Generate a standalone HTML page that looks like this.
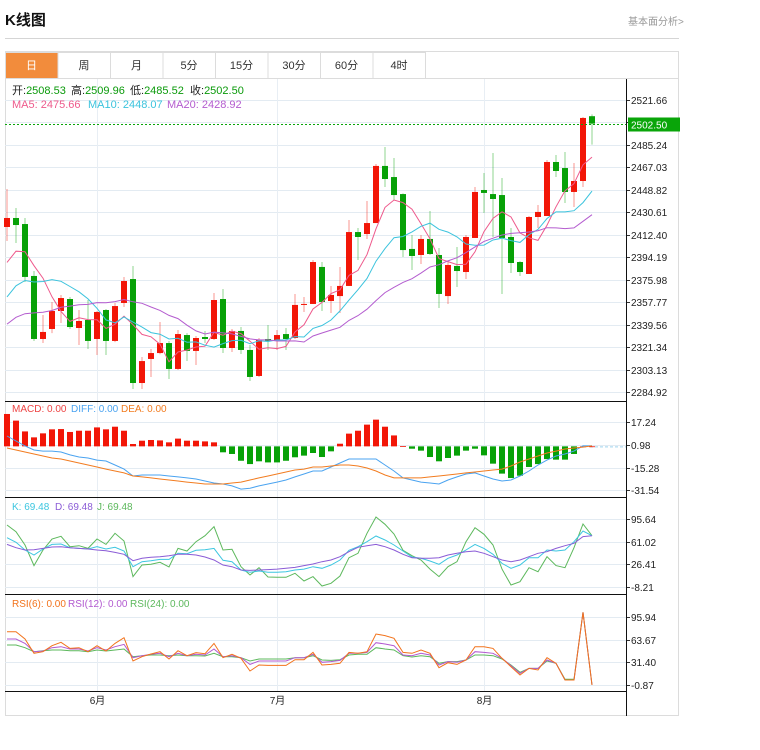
<!DOCTYPE html>
<html><head><meta charset="utf-8"><style>
body{margin:0;background:#fff;width:760px;height:745px;overflow:hidden;font-family:"Liberation Sans","Noto Sans CJK SC",sans-serif}
svg text{font-family:"Liberation Sans","Noto Sans CJK SC",sans-serif}
</style></head><body>
<svg id="c" width="760" height="745" xmlns="http://www.w3.org/2000/svg">
<text x="5" y="25" font-size="15" font-weight="bold" fill="#111">K线图</text>
<text x="628" y="25" font-size="10" fill="#999">基本面分析&gt;</text>
<line x1="5" y1="38.5" x2="679" y2="38.5" stroke="#d5d5d5"/>
<rect x="5.5" y="51.5" width="673" height="664" fill="none" stroke="#dcdcdc"/>
<line x1="5" y1="78.5" x2="679" y2="78.5" stroke="#dcdcdc"/>
<g id="tabs"></g>
<g id="grid"></g><g id="main"></g><g id="ind"></g><g id="axes"></g>
<text y="94" font-size="11"><tspan x="12" fill="#222">开:</tspan><tspan fill="#0a9a0a">2508.53</tspan><tspan x="71" fill="#222">高:</tspan><tspan fill="#0a9a0a">2509.96</tspan><tspan x="130" fill="#222">低:</tspan><tspan fill="#0a9a0a">2485.52</tspan><tspan x="190" fill="#222">收:</tspan><tspan fill="#0a9a0a">2502.50</tspan></text>
<text y="108" font-size="11"><tspan x="12" fill="#ee5a8c">MA5: 2475.66</tspan><tspan x="88" fill="#3bc3dd">MA10: 2448.07</tspan><tspan x="167" fill="#b45ccf">MA20: 2428.92</tspan></text>
<text y="412" font-size="10"><tspan x="12" fill="#ee4444">MACD: 0.00</tspan><tspan x="71" fill="#4aa3f0">DIFF: 0.00</tspan><tspan x="121" fill="#f27c20">DEA: 0.00</tspan></text>
<text y="510" font-size="10"><tspan x="12" fill="#3cc6e0">K: 69.48</tspan><tspan x="55" fill="#8a5bd6">D: 69.48</tspan><tspan x="97" fill="#5cb85c">J: 69.48</tspan></text>
<text y="607" font-size="10"><tspan x="12" fill="#f2731c">RSI(6): 0.00</tspan><tspan x="68" fill="#b259d0">RSI(12): 0.00</tspan><tspan x="130" fill="#5cb85c">RSI(24): 0.00</tspan></text>
</svg>
<script>
const tabs=["日","周","月","5分","15分","30分","60分","4时"];
const opens=[2418.7,2426.0,2421.1,2379.0,2327.9,2336.0,2350.6,2360.3,2336.8,2343.3,2327.9,2351.4,2326.3,2357.1,2376.5,2292.2,2311.7,2316.5,2324.6,2303.6,2331.1,2318.2,2329.5,2327.9,2360.3,2320.6,2334.4,2319.0,2297.9,2327.9,2326.3,2331.9,2328.7,2355.8,2356.3,2386.3,2358.7,2362.7,2370.9,2414.6,2413.0,2421.9,2468.2,2459.2,2445.4,2400.9,2396.0,2409.0,2396.0,2362.7,2387.1,2382.2,2409.8,2448.7,2445.4,2444.6,2410.6,2390.3,2380.6,2426.8,2427.6,2471.4,2466.5,2447.1,2456.0,2508.53];
const closes=[2426.0,2420.3,2378.2,2327.9,2333.6,2350.6,2361.1,2337.6,2342.5,2326.3,2349.8,2326.3,2354.6,2374.9,2292.2,2310.0,2316.5,2324.6,2303.6,2331.9,2318.2,2328.7,2327.9,2359.5,2320.6,2334.4,2319.0,2297.1,2327.1,2326.3,2331.1,2327.9,2355.5,2356.3,2390.3,2357.9,2363.6,2370.9,2414.6,2410.6,2421.9,2468.2,2457.6,2444.6,2400.0,2395.2,2409.0,2396.8,2364.4,2387.9,2383.0,2410.6,2447.1,2446.3,2441.4,2409.8,2389.5,2382.2,2426.8,2430.9,2471.4,2464.1,2447.1,2456.0,2507.1,2502.50];
const highs=[2449.5,2434.1,2426.0,2383.0,2347.3,2357.9,2363.6,2361.9,2351.4,2359.5,2350.5,2352.2,2357.1,2378.2,2387.1,2313.3,2319.8,2341.7,2326.3,2335.2,2332.7,2330.3,2334.4,2365.2,2368.4,2336.0,2337.6,2323.0,2328.7,2339.2,2335.2,2336.8,2364.4,2361.9,2391.9,2390.3,2370.9,2386.3,2424.4,2417.9,2439.8,2469.8,2483.6,2474.6,2446.0,2412.2,2412.2,2431.7,2401.7,2390.3,2402.5,2412.2,2451.1,2462.5,2478.7,2458.4,2417.9,2391.0,2427.6,2436.5,2473.0,2477.1,2479.5,2470.6,2507.9,2509.96];
const lows=[2407.3,2405.7,2374.1,2326.3,2324.6,2332.7,2340.9,2336.0,2323.0,2319.8,2314.9,2314.9,2325.4,2353.8,2287.3,2287.3,2297.1,2315.5,2295.5,2302.8,2310.0,2306.8,2324.6,2327.1,2316.5,2317.3,2315.7,2293.8,2297.1,2319.0,2319.0,2319.0,2327.9,2349.8,2356.3,2350.6,2349.0,2349.0,2370.9,2391.9,2409.0,2421.9,2451.1,2440.6,2394.4,2383.8,2388.7,2396.0,2353.0,2356.3,2370.0,2376.5,2409.8,2430.0,2410.6,2364.4,2381.4,2379.0,2380.6,2417.9,2427.6,2459.2,2438.2,2434.9,2451.1,2485.52];
const prevCloses=[2310,2320,2315,2325,2320,2310,2318,2322,2320,2320,2330,2335,2340,2330,2335,2375,2380,2385,2384];
const priceTicks=["2521.66","2503.45","2485.24","2467.03","2448.82","2430.61","2412.40","2394.19","2375.98","2357.77","2339.56","2321.34","2303.13","2284.92"];
const lastPrice=2502.50;
const macdBars=[23.4,18.6,10.8,6.5,9.4,12.3,12.5,10.4,11.3,11.3,13.7,12.3,14.2,11.3,1.7,4.1,4.6,4.3,2.9,5.6,4.1,4.1,3.6,2.9,-4.3,-5.5,-10.4,-12.8,-10.8,-11.6,-11.6,-10.4,-7.9,-6.7,-4.8,-7.7,-3.6,1.9,9.2,11.3,15.7,19.3,14.2,7.9,0.2,-1.7,-3.1,-7.7,-10.8,-8.4,-6.7,-3.1,-1.7,-6.5,-12.5,-19.7,-22.9,-21.2,-14.9,-12.8,-9.2,-9.6,-9.6,-5.5,0,0];
const diffVals=[7.5,3.9,0.3,-2.6,-3.4,-3.4,-4.1,-6.2,-7.7,-8.4,-9.9,-10.6,-13.5,-16.4,-21.4,-20.7,-20.7,-20.7,-21.4,-22.1,-22.8,-23.6,-25.0,-26.5,-27.2,-28.6,-30.9,-30.2,-28.6,-27.2,-25.8,-24.3,-22.1,-20.0,-17.8,-17.8,-14.9,-12.0,-9.1,-9.1,-9.1,-9.1,-13.5,-17.8,-22.8,-24.3,-25.8,-26.5,-27.2,-24.3,-22.1,-20.0,-19.2,-21.4,-23.6,-25.0,-24.3,-21.4,-17.8,-13.5,-9.9,-7.0,-5.5,-3.4,0.3,0.3];
const deaVals=[-1.2,-2.6,-4.1,-5.5,-7.0,-8.4,-9.1,-10.6,-12.0,-13.5,-14.9,-16.4,-17.8,-19.2,-21.4,-22.1,-22.8,-23.6,-24.3,-25.0,-25.8,-26.5,-27.2,-27.2,-27.2,-26.5,-25.8,-24.3,-22.8,-21.4,-20.0,-18.5,-17.1,-16.4,-14.9,-14.9,-14.2,-13.5,-13.5,-14.2,-15.6,-17.8,-20.7,-22.8,-22.8,-22.8,-22.8,-22.1,-21.4,-20.7,-20.0,-19.2,-18.5,-17.8,-17.1,-16.4,-14.2,-11.3,-9.1,-7.0,-4.8,-3.4,-1.9,-1.2,-0.5,0.3];
const macdTicks=["17.24","0.98","-15.28","-31.54"];
const kVals=[67.1,60.0,48.3,40.6,49.8,56.9,57.5,51.8,50.8,49.8,53.4,49.8,52.4,46.8,22.8,30.4,32.0,34.0,34.0,43.2,42.7,47.8,48.8,50.8,32.5,30.4,17.7,14.2,16.2,14.2,14.2,15.2,17.7,19.2,22.8,20.3,25.4,33.0,47.8,53.4,61.0,69.7,63.6,55.9,46.8,37.6,35.6,31.5,26.4,35.6,40.6,48.3,56.9,50.8,41.7,27.9,20.3,25.4,36.6,36.6,48.3,46.8,48.3,61.0,77.3,70.2];
const dVals=[56.9,51.8,48.3,48.8,50.8,52.9,53.4,51.8,50.8,49.8,48.3,47.3,44.7,41.7,32.0,35.6,37.1,38.1,39.6,41.7,41.7,40.6,37.6,33.0,25.4,22.8,17.7,17.2,17.7,18.3,19.2,20.3,21.8,24.4,26.9,30.4,33.0,38.1,45.7,52.4,54.9,56.9,53.4,48.3,41.7,36.6,35.6,35.6,36.6,40.6,43.2,45.7,46.8,43.2,38.1,33.0,30.4,33.0,38.1,43.2,45.7,50.8,54.9,58.5,68.7,70.2];
const jVals=[86.5,76.3,55.9,24.4,48.3,65.1,69.2,53.4,54.9,50.8,65.1,56.9,73.8,62.0,7.6,25.4,26.4,29.5,22.3,50.8,46.8,61.0,70.2,83.9,48.3,49.3,22.8,10.1,21.3,7.1,6.6,6.6,12.7,1.0,7.6,-6.7,-2.6,8.6,36.6,43.2,73.8,98.7,87.5,72.7,47.8,39.6,33.0,19.2,7.6,22.8,30.4,61.0,82.4,72.2,55.9,19.2,-5.1,-0.1,21.3,15.2,38.1,24.4,21.3,51.8,88.0,70.2];
const kdjTicks=["95.64","61.02","26.41","-8.21"];
const rsi6=[75.0,75.0,64.6,44.2,46.6,55.1,59.9,51.3,52.3,46.6,55.1,47.5,58.4,66.5,33.3,39.4,43.2,46.6,36.1,48.0,40.9,45.2,43.7,58.4,38.0,42.8,37.1,19.0,27.6,27.1,27.1,27.1,35.2,35.2,45.6,27.6,28.5,30.0,45.6,44.2,46.6,71.7,69.4,65.6,45.6,44.2,49.0,44.2,23.8,30.9,28.5,34.7,53.7,53.7,51.3,37.1,25.2,13.4,22.8,20.5,38.0,30.0,6.2,6.2,102.6,-0.9];
const rsi12=[64.6,64.6,58.4,46.6,47.5,52.3,53.7,50.4,50.4,47.5,52.3,49.0,53.7,57.0,38.0,40.9,42.8,44.2,39.4,44.2,40.9,42.8,41.8,50.4,39.4,40.9,38.0,28.5,33.3,33.3,33.3,33.3,38.0,38.0,42.8,31.4,32.4,34.2,44.2,44.2,45.6,59.4,57.5,55.1,41.8,40.9,44.2,41.8,27.6,32.4,31.4,34.7,46.6,45.6,44.2,37.1,26.6,15.7,22.8,22.8,34.7,30.0,6.2,6.2,102.6,-0.9];
const rsi24=[56.1,56.1,52.3,46.6,48.0,49.0,49.0,48.0,48.0,46.6,49.0,47.5,49.0,50.4,39.4,40.9,41.8,41.8,40.9,41.8,40.9,40.9,40.4,44.2,39.4,39.4,38.0,33.3,36.1,36.1,36.1,36.1,38.0,38.0,40.9,34.7,34.2,35.2,41.8,42.8,42.8,52.3,50.4,49.0,40.9,39.0,40.9,39.4,30.0,32.4,32.4,34.7,41.8,41.8,40.9,36.1,27.6,17.2,22.8,22.8,33.3,30.0,7.2,7.2,102.6,-0.9];
const rsiTicks=["95.94","63.67","31.40","-0.87"];
const monthLabels=["6月","7月","8月"];
const monthIdx=[10,30,53];

const NS="http://www.w3.org/2000/svg";
function mk(parent,tag,attrs){const e=document.createElementNS(NS,tag);for(const k in attrs)e.setAttribute(k,attrs[k]);document.getElementById(parent).appendChild(e);return e;}
const xOf=i=>7+9*i;
const yP=p=>100+(2521.66-p)*1.2334;
const yM=v=>446.36-v*1.384;
const yK=v=>519+(95.64-v)*0.6548;
const yR=v=>617+(95.94-v)*0.7024;
const L=5,R=626;

tabs.forEach((t,i)=>{
  const x=5+i*52.5;
  const r=mk('tabs','rect',{x:x+0.5,y:52.5,width:52.5,height:26,fill:i==0?'#f28c3c':'#fff',stroke:'#dcdcdc'});
  
  
  const tx=mk('tabs','text',{x:x+26.5,y:69,'font-size':11,'text-anchor':'middle',fill:i==0?'#fff':'#333'});
  tx.textContent=t;
  
  
});

function hgrid(ticks,fy){
  ticks.forEach(t=>{
    const y=Math.round(fy(parseFloat(t)))+0.5;
    mk('grid','line',{x1:L,y1:y,x2:R,y2:y,stroke:'#e3ebf2'});
    mk('axes','line',{x1:R,y1:y,x2:R+4,y2:y,stroke:'#333'});
    const tx=mk('axes','text',{x:R+5,y:y+3.5,'font-size':10,fill:'#222'});
    tx.textContent=t;
    
    
  });
}
hgrid(priceTicks,yP);hgrid(macdTicks,yM);hgrid(kdjTicks,yK);hgrid(rsiTicks,yR);
monthIdx.forEach((idx,k)=>{
  const x=Math.round(xOf(idx))+0.5;
  mk('grid','line',{x1:x,y1:79,x2:x,y2:691,stroke:'#e8eef4'});
  const tx=mk('axes','text',{x:x,y:704,'font-size':10,'text-anchor':'middle',fill:'#222'});
  tx.textContent=monthLabels[k];
  
  
});
[401,497,594,691].forEach(y=>{
  const l=mk('axes','line',{x1:L,y1:y+0.5,x2:R,y2:y+0.5,stroke:'#111'});
  
  
});
const ax=mk('axes','line',{x1:R+0.5,y1:79,x2:R+0.5,y2:716,stroke:'#111'});



const RED='#f21607',GRN='#07a107';
opens.forEach((o,i)=>{
  const c=closes[i],up=c>=o,col=up?RED:GRN,x=xOf(i);
  const w=mk('main','line',{x1:x,y1:yP(highs[i]),x2:x,y2:yP(lows[i]),stroke:col,'stroke-opacity':0.45,'stroke-width':1});
  
  
  const top=yP(Math.max(o,c)),bot=yP(Math.min(o,c));
  const b=mk('main','rect',{x:x-3,y:top,width:6,height:Math.max(1,bot-top),fill:col});
  
  
});
const all=prevCloses.concat(closes);
function ma(n){return closes.map((_,i)=>{const j=i+prevCloses.length;let s=0,c=0;for(let k=Math.max(0,j-n+1);k<=j;k++){s+=all[k];c++;}return s/c;});}
function poly(g,vals,fy,col,name,w){
  const p=mk(g,'polyline',{points:vals.map((v,i)=>xOf(i)+','+fy(v).toFixed(1)).join(' '),fill:'none',stroke:col,'stroke-width':w||1});
  
  
}
poly('main',ma(5),yP,'#ee5a8c','ma5-line');
poly('main',ma(10),yP,'#3bc3dd','ma10-line');
poly('main',ma(20),yP,'#b45ccf','ma20-line');
const ly=Math.round(yP(lastPrice))+0.5;
const pl=mk('main','line',{x1:L,y1:ly,x2:R,y2:ly,stroke:'#0aa50a','stroke-dasharray':'2,2'});


mk('axes','rect',{x:R+2,y:ly-7,width:52,height:14,fill:'#09a509'});
const lt=mk('axes','text',{x:R+5,y:ly+4,'font-size':10,fill:'#fff'});
lt.textContent=lastPrice.toFixed(2);



mk('ind','line',{x1:590,y1:yM(0)+0.5,x2:R,y2:yM(0)+0.5,stroke:'#9fd3ee','stroke-dasharray':'3,2'});
macdBars.forEach((v,i)=>{
  const y0=yM(0),y1=yM(v);
  const r=mk('ind','rect',{x:xOf(i)-3,y:Math.min(y0,y1),width:6,height:Math.max(0.8,Math.abs(y1-y0)),fill:v>=0?RED:GRN});
  
  
});
poly('ind',diffVals,yM,'#4aa3f0','diff-line');
poly('ind',deaVals,yM,'#f27c20','dea-line');
poly('ind',jVals,yK,'#5cb85c','j-line');
poly('ind',kVals,yK,'#3cc6e0','k-line');
poly('ind',dVals,yK,'#8a5bd6','d-line');
poly('ind',rsi24,yR,'#5cb85c','rsi24-line');
poly('ind',rsi12,yR,'#b259d0','rsi12-line');
poly('ind',rsi6,yR,'#f2731c','rsi6-line');
</script>
</body></html>
